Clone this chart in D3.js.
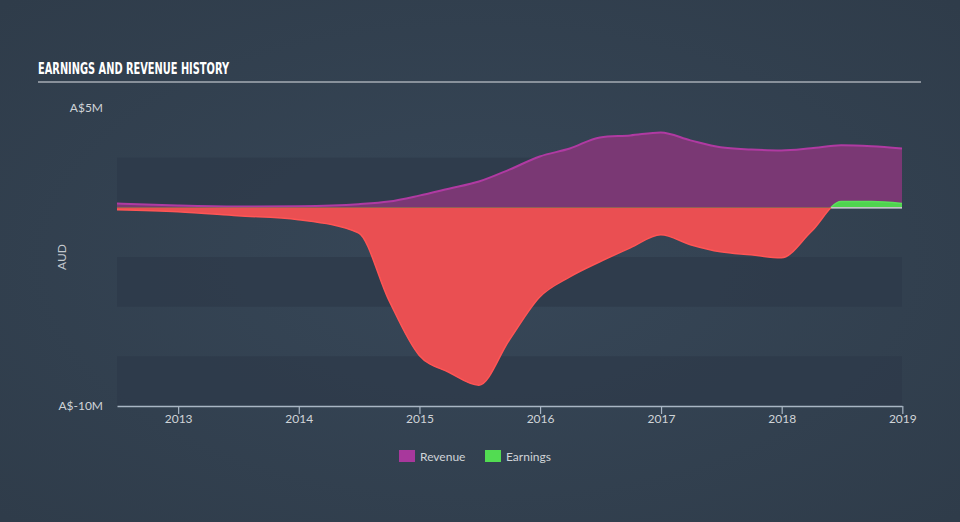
<!DOCTYPE html>
<html>
<head>
<meta charset="utf-8">
<script src="https://cdn.jsdelivr.net/npm/d3@7/dist/d3.min.js"></script>
<style>
  html, body { margin: 0; padding: 0; background: #334251; }
  svg { display: block; }
</style>
</head>
<body>
<svg id="chart" width="960" height="522"></svg>
<script>
const dates = ["2012-06-30","2012-12-31","2013-06-30","2013-12-31","2014-06-30","2014-09-30","2014-12-31",
  "2015-03-31","2015-06-30","2015-09-30","2015-12-31","2016-03-31","2016-06-30","2016-09-30","2016-12-31",
  "2017-03-31","2017-06-30","2017-09-30","2017-12-31","2018-03-31","2018-06-30","2018-09-30","2018-12-31"];
const revenue = [0.19,0.09,0.04,0.06,0.16,0.29,0.59,0.94,1.3,1.9,2.56,2.96,3.52,3.62,3.77,3.37,3.02,2.91,2.86,2.97,3.12,3.07,2.96];
const earnings = [-0.12,-0.22,-0.42,-0.62,-1.28,-4.66,-7.44,-8.3,-8.95,-6.68,-4.51,-3.5,-2.74,-2.04,-1.38,-1.88,-2.24,-2.39,-2.54,-1.23,0.29,0.29,0.19];
const yTickValues = [5, -10];
const yTickLabels = ["A$5M", "A$-10M"];
const xTickYears = [2013, 2014, 2015, 2016, 2017, 2018, 2019];
const bandRanges = [[0, 2.5], [-5, -2.5], [-10, -7.5]];
const legendItems = [{name: "Revenue", color: "#a8389c"}, {name: "Earnings", color: "#52dc52"}];

const parse = d3.timeParse("%Y-%m-%d");
const data = dates.map((d, i) => ({date: parse(d), rev: revenue[i], earn: earnings[i]}));

const svg = d3.select("#chart");
const W = 960, H = 522;
const left = 117, right = 902;

// background gradient
const defs = svg.append("defs");
const rg = defs.append("radialGradient").attr("id", "bg").attr("cx", "50%").attr("cy", "50%").attr("r", "70%");
rg.append("stop").attr("offset", "0%").attr("stop-color", "#374758");
rg.append("stop").attr("offset", "100%").attr("stop-color", "#2f3c4a");
svg.append("rect").attr("width", W).attr("height", H).attr("fill", "url(#bg)");

const x = d3.scaleTime().domain([parse("2012-06-30"), parse("2018-12-31")]).range([left, right]);
const y = d3.scaleLinear().domain([-10, 5]).range([406, 108]);

// bands
svg.append("g").selectAll("rect").data(bandRanges).join("rect")
  .attr("x", left).attr("width", right - left)
  .attr("y", d => y(d[1])).attr("height", d => y(d[0]) - y(d[1]))
  .attr("fill", "#2d3a49").attr("opacity", 0.75);

// title
svg.append("text").attr("x", 38).attr("y", 74)
  .attr("font-family", "'Liberation Sans Narrow', 'DejaVu Sans Condensed', sans-serif")
  .attr("font-weight", "bold").attr("font-size", 16).attr("fill", "#ffffff")
  .attr("textLength", 191).attr("lengthAdjust", "spacingAndGlyphs")
  .text("EARNINGS AND REVENUE HISTORY");
svg.append("line").attr("x1", 38).attr("x2", 921).attr("y1", 82).attr("y2", 82)
  .attr("stroke", "#a6adb5").attr("stroke-width", 1.5);

const curve = d3.curveMonotoneX;

// revenue area
const revArea = d3.area().x(d => x(d.date)).y0(y(0)).y1(d => y(d.rev)).curve(curve);
const revLine = d3.line().x(d => x(d.date)).y(d => y(d.rev)).curve(curve);
svg.append("path").datum(data).attr("d", revArea).attr("fill", "#7a3874");
svg.append("path").datum(data).attr("d", revLine).attr("fill", "none").attr("stroke", "#b03aa2").attr("stroke-width", 2);

// earnings area, clipped into negative (red) and positive (green)
defs.append("clipPath").attr("id", "neg").append("rect")
  .attr("x", 0).attr("y", y(0)).attr("width", W).attr("height", H);
defs.append("clipPath").attr("id", "pos").append("rect")
  .attr("x", 0).attr("y", 0).attr("width", W).attr("height", y(0));
const earnArea = d3.area().x(d => x(d.date)).y0(y(0)).y1(d => y(d.earn)).curve(curve);
const earnLine = d3.line().x(d => x(d.date)).y(d => y(d.earn)).curve(curve);
svg.append("path").datum(data).attr("d", earnArea).attr("fill", "#ea4f52").attr("clip-path", "url(#neg)");
svg.append("path").datum(data).attr("d", earnLine).attr("fill", "none").attr("stroke", "#ff5555").attr("stroke-width", 1.5).attr("clip-path", "url(#neg)");
svg.append("path").datum(data).attr("d", earnArea).attr("fill", "#4fd44f").attr("clip-path", "url(#pos)");
svg.append("path").datum(data).attr("d", earnLine).attr("fill", "none").attr("stroke", "#5be05b").attr("stroke-width", 1.5).attr("clip-path", "url(#pos)");

// zero line under positive earnings
const firstPos = data.find(d => d.earn > 0);
svg.append("line").attr("x1", x(firstPos.date) - 10).attr("x2", right)
  .attr("y1", y(0) + 0.5).attr("y2", y(0) + 0.5).attr("stroke", "#e8eef0").attr("stroke-width", 1.2);

// x axis
const xAxis = d3.axisBottom(x)
  .tickValues(xTickYears.map(yr => new Date(yr, 0, 1)))
  .tickFormat(d3.timeFormat("%Y")).tickSize(8).tickSizeOuter(0);
const gx = svg.append("g").attr("transform", `translate(0,${y(-10)})`).call(xAxis);
gx.select(".domain").attr("stroke", "#a9b6c4").attr("stroke-width", 1.5);
gx.selectAll(".tick line").attr("stroke", "#a9b6c4").attr("stroke-width", 1.2);
gx.selectAll(".tick text").attr("fill", "#d0d4d8").attr("font-size", 12)
  .attr("font-family", "Lato, 'Open Sans', sans-serif").attr("dy", "0.5em");

// y labels
svg.append("g").selectAll("text").data(yTickValues).join("text")
  .attr("x", 103).attr("y", d => y(d) + 4).attr("text-anchor", "end")
  .attr("font-family", "Lato, 'Open Sans', sans-serif").attr("font-size", 12).attr("fill", "#d0d4d8")
  .text((d, i) => yTickLabels[i]);
svg.append("text").attr("transform", `translate(66,${(y(5) + y(-10)) / 2}) rotate(-90)`)
  .attr("text-anchor", "middle").attr("font-family", "Lato, 'Open Sans', sans-serif")
  .attr("font-size", 12).attr("fill", "#c4c9ce").text("AUD");

// legend
const lg = svg.append("g");
const lx = [399, 485];
legendItems.forEach((it, i) => {
  lg.append("rect").attr("x", lx[i]).attr("y", 450).attr("width", 16).attr("height", 12).attr("fill", it.color);
  lg.append("text").attr("x", lx[i] + 21).attr("y", 460.5)
    .attr("font-family", "Lato, 'Open Sans', sans-serif").attr("font-size", 12).attr("fill", "#d0d4d8")
    .text(it.name);
});
</script>
</body>
</html>
